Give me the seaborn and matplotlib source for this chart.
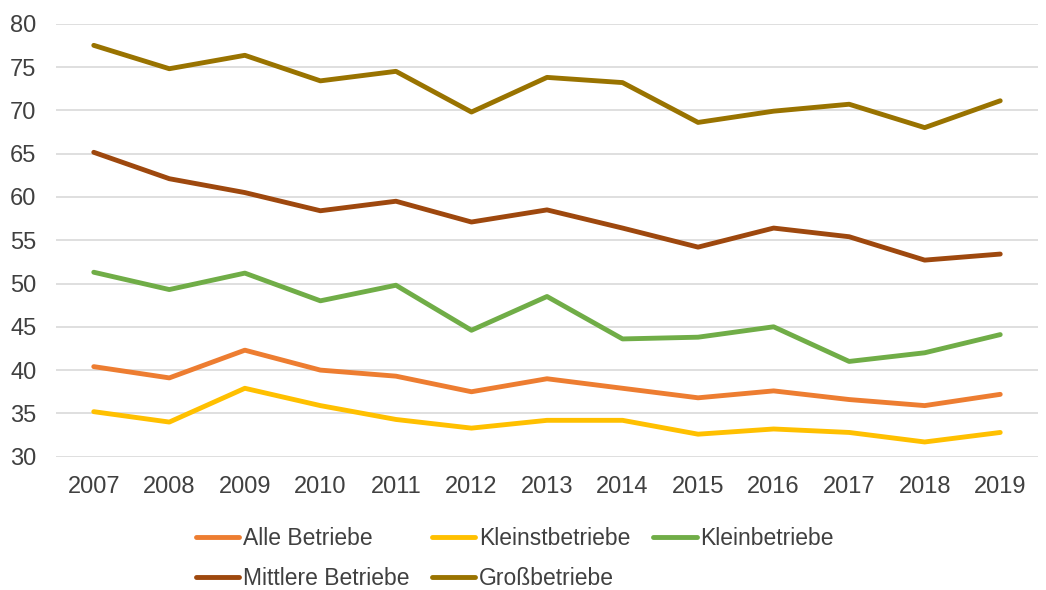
import pandas as pd
import seaborn as sns
import matplotlib.pyplot as plt

years = list(range(2007, 2020))
alle = [40.4, 39.1, 42.3, 40.0, 39.3, 37.5, 39.0, 37.9, 36.8, 37.6, 36.6, 35.9, 37.2]
kleinst = [35.2, 34.0, 37.9, 35.9, 34.3, 33.3, 34.2, 34.2, 32.6, 33.2, 32.8, 31.7, 32.8]
klein = [51.3, 49.3, 51.2, 48.0, 49.8, 44.6, 48.5, 43.6, 43.8, 45.0, 41.0, 42.0, 44.1]
mittlere = [65.15, 62.1, 60.5, 58.4, 59.5, 57.1, 58.5, 56.4, 54.2, 56.4, 55.4, 52.7, 53.4]
gross = [77.5, 74.8, 76.35, 73.4, 74.5, 69.8, 73.8, 73.2, 68.6, 69.9, 70.7, 68.0, 71.1]

series = ["Alle Betriebe", "Kleinstbetriebe", "Kleinbetriebe", "Mittlere Betriebe", "Großbetriebe"]
colors = ["#ED7D31", "#FFC000", "#70AD47", "#9E480E", "#997300"]

frames = []
for name, vals in zip(series, [alle, kleinst, klein, mittlere, gross]):
    frames.append(pd.DataFrame({"Jahr": [str(y) for y in years], "Wert": vals, "Gruppe": name}))
df = pd.concat(frames)

sns.set_style("white")
plt.rcParams["font.family"] = ["Liberation Sans", "DejaVu Sans"]

fig = plt.figure(figsize=(10.46, 5.9), dpi=100)
ax = fig.add_axes([56 / 1046, 133.3 / 590, (1038 - 56) / 1046, (566.3 - 133.3) / 590])

sns.lineplot(data=df, x="Jahr", y="Wert", hue="Gruppe", hue_order=series,
             palette=colors, linewidth=3.5, ax=ax, legend=True, sort=False)

ax.set_ylim(30, 80)
ax.set_yticks(range(30, 81, 5))
ax.set_xlim(-0.5, len(years) - 0.5)
ax.set_xlabel("")
ax.set_ylabel("")
ax.grid(axis="y", color="#D9D9D9", linewidth=1.2)
ax.set_axisbelow(True)
for s in ax.spines.values():
    s.set_visible(False)
ax.tick_params(axis="both", length=0, labelsize=17, labelcolor="#404040")
ax.tick_params(axis="y", pad=14)
ax.tick_params(axis="x", pad=14)

# legend in row order: Excel style, 3 columns
handles, labels = ax.get_legend_handles_labels()
ax.get_legend().remove()
for h in handles:
    h.set_linewidth(3.5)
order = [0, 3, 1, 4, 2]
fig.legend([handles[i] for i in order], [labels[i] for i in order],
           loc="upper center", bbox_to_anchor=(0.492, 1 - 506 / 590), ncol=3,
           frameon=False, fontsize=16.5, labelcolor="#404040",
           handlelength=1.9, handletextpad=0.15, columnspacing=1.0,
           labelspacing=0.75)

fig.savefig("out.png", dpi=100)
